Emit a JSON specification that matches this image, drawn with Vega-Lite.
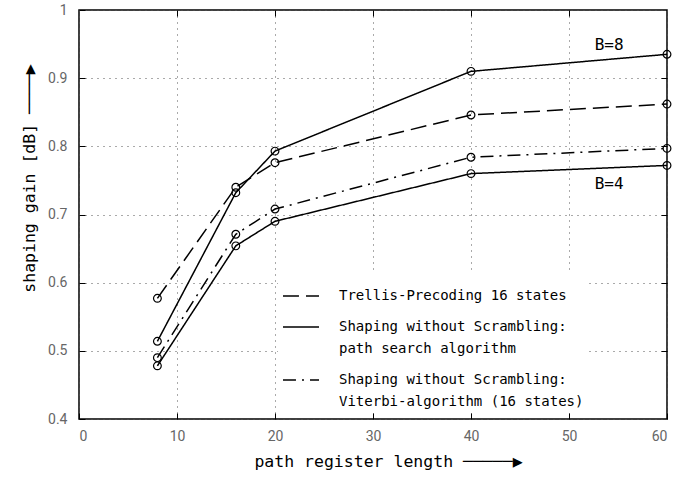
{
  "$schema": "https://vega.github.io/schema/vega-lite/v6.json",
  "width": 588,
  "height": 409,
  "autosize": "none",
  "padding": {"left": 79, "top": 10, "right": 10, "bottom": 63},
  "background": "white",
  "config": {
    "view": {"stroke": "black", "strokeWidth": 1.5},
    "axis": {
      "domain": false,
      "tickColor": "black",
      "tickSize": -6,
      "tickWidth": 1,
      "labelFont": "Roboto",
      "labelFontSize": 14,
      "labelColor": "#666666",
      "titleFont": "DejaVu Sans Mono",
      "titleFontSize": 16.5,
      "titleFontWeight": "normal",
      "titleColor": "black",
      "gridColor": "#555555",
      "gridDash": [1, 5],
      "gridWidth": 1
    }
  },
  "datasets": {
    "curves": [
      {"curve": "trellis", "method": "Trellis-Precoding  16 states", "length": 8, "gain": 0.577},
      {"curve": "trellis", "method": "Trellis-Precoding  16 states", "length": 16, "gain": 0.740},
      {"curve": "trellis", "method": "Trellis-Precoding  16 states", "length": 20, "gain": 0.776},
      {"curve": "trellis", "method": "Trellis-Precoding  16 states", "length": 40, "gain": 0.846},
      {"curve": "trellis", "method": "Trellis-Precoding  16 states", "length": 60, "gain": 0.862},
      {"curve": "path8", "method": "Shaping without Scrambling:|path search algorithm", "length": 8, "gain": 0.514},
      {"curve": "path8", "method": "Shaping without Scrambling:|path search algorithm", "length": 16, "gain": 0.732},
      {"curve": "path8", "method": "Shaping without Scrambling:|path search algorithm", "length": 20, "gain": 0.793},
      {"curve": "path8", "method": "Shaping without Scrambling:|path search algorithm", "length": 40, "gain": 0.910},
      {"curve": "path8", "method": "Shaping without Scrambling:|path search algorithm", "length": 60, "gain": 0.935},
      {"curve": "viterbi", "method": "Shaping without Scrambling:|Viterbi-algorithm (16 states)", "length": 8, "gain": 0.490},
      {"curve": "viterbi", "method": "Shaping without Scrambling:|Viterbi-algorithm (16 states)", "length": 16, "gain": 0.671},
      {"curve": "viterbi", "method": "Shaping without Scrambling:|Viterbi-algorithm (16 states)", "length": 20, "gain": 0.708},
      {"curve": "viterbi", "method": "Shaping without Scrambling:|Viterbi-algorithm (16 states)", "length": 40, "gain": 0.784},
      {"curve": "viterbi", "method": "Shaping without Scrambling:|Viterbi-algorithm (16 states)", "length": 60, "gain": 0.797},
      {"curve": "path4", "method": "Shaping without Scrambling:|path search algorithm", "length": 8, "gain": 0.478},
      {"curve": "path4", "method": "Shaping without Scrambling:|path search algorithm", "length": 16, "gain": 0.654},
      {"curve": "path4", "method": "Shaping without Scrambling:|path search algorithm", "length": 20, "gain": 0.690},
      {"curve": "path4", "method": "Shaping without Scrambling:|path search algorithm", "length": 40, "gain": 0.760},
      {"curve": "path4", "method": "Shaping without Scrambling:|path search algorithm", "length": 60, "gain": 0.772}
    ],
    "notes": [
      {"length": 54.1, "gain": 0.949, "label": "B=8"},
      {"length": 54.1, "gain": 0.745, "label": "B=4"}
    ]
  },
  "layer": [
    {
      "data": {"name": "curves"},
      "mark": {"type": "line", "color": "black", "strokeWidth": 1.5},
      "encoding": {
        "x": {
          "field": "length", "type": "quantitative",
          "scale": {"domain": [0, 60], "nice": false},
          "axis": {"orient": "bottom", "values": [0, 10, 20, 30, 40, 50, 60], "grid": true, "title": "path register length \u2500\u2500\u2500\u2500\u2500\u25b6", "labelPadding": 16, "titlePadding": 10, "titleX": 309}
        },
        "y": {
          "field": "gain", "type": "quantitative",
          "scale": {"domain": [0.4, 1], "nice": false, "zero": false},
          "axis": {"orient": "left", "values": [0.4, 0.5, 0.6, 0.7, 0.8, 0.9, 1], "format": ".1~f", "grid": true, "title": "shaping  gain  [dB]  \u2500\u2500\u2500\u2500\u25b6", "labelPadding": 18, "titlePadding": 10, "titleY": 168}
        },
        "strokeDash": {
          "field": "method", "type": "nominal",
          "scale": {
            "domain": ["Trellis-Precoding  16 states", "Shaping without Scrambling:|path search algorithm", "Shaping without Scrambling:|Viterbi-algorithm (16 states)"],
            "range": [[16, 7], [1, 0], [13, 6, 2, 6]]
          },
          "legend": {
            "title": null,
            "orient": "none",
            "legendX": 199,
            "legendY": 263,
            "fillColor": "white",
            "padding": 4,
            "symbolType": "stroke",
            "symbolSize": 1300,
            "symbolStrokeWidth": 1.5,
            "symbolStrokeColor": "black",
            "labelFont": "DejaVu Sans Mono",
            "labelFontSize": 14,
            "labelColor": "black",
            "labelLimit": 0,
            "labelOffset": 19,
            "labelBaseline": "top",
            "rowPadding": 5,
            "labelExpr": "split(datum.label, '|')",
            "encode": {"labels": {"update": {"dy": {"value": -7}, "lineHeight": {"value": 22}}}}
          }
        },
        "detail": {"field": "curve"}
      }
    },
    {
      "data": {"name": "curves"},
      "mark": {"type": "point", "shape": "circle", "filled": false, "color": "black", "size": 60, "strokeWidth": 1.2, "opacity": 1},
      "encoding": {
        "x": {"field": "length", "type": "quantitative", "axis": {"orient": "top", "values": [10, 20, 30, 40, 50], "labels": false, "grid": false, "title": null}},
        "y": {"field": "gain", "type": "quantitative", "axis": {"orient": "right", "values": [0.5, 0.6, 0.7, 0.8, 0.9], "labels": false, "grid": false, "title": null}},
        "detail": {"field": "curve"}
      }
    },
    {
      "data": {"name": "notes"},
      "mark": {"type": "text", "font": "DejaVu Sans Mono", "fontSize": 16, "color": "black"},
      "encoding": {
        "x": {"field": "length", "type": "quantitative", "axis": null},
        "y": {"field": "gain", "type": "quantitative", "axis": null},
        "text": {"field": "label"}
      }
    }
  ],
  "resolve": {"axis": {"x": "independent", "y": "independent"}}
}
